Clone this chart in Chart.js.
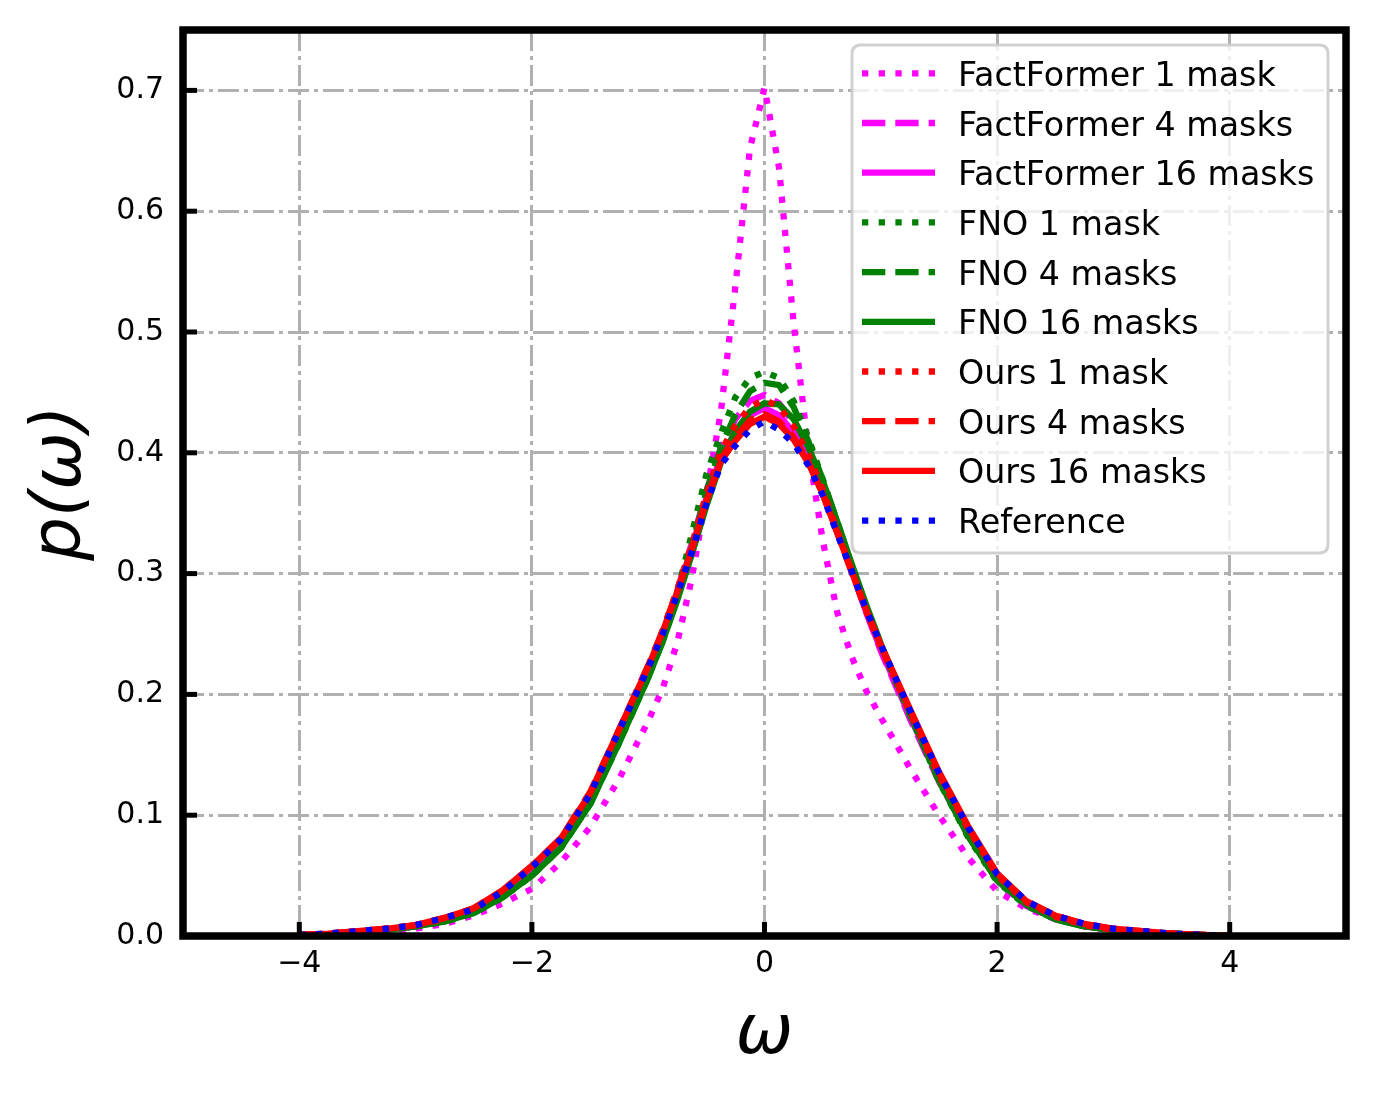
<!DOCTYPE html>
<html>
<head>
<meta charset="utf-8">
<script src="https://cdn.jsdelivr.net/npm/chart.js@4.4.1/dist/chart.umd.min.js"></script>
<style>
  html, body { margin: 0; padding: 0; background: #ffffff; }
  #wrap { width: 1374px; height: 1094px; }
</style>
</head>
<body>
<div id="wrap"><canvas id="c" width="1374" height="1094"></canvas></div>
<script>
// ---- data ----
const omega = [-4,-3.75,-3.5,-3.25,-3,-2.75,-2.5,-2.25,-2,-1.75,-1.5,-1.25,-1,-0.875,-0.75,-0.625,-0.5,-0.375,-0.25,-0.125,0,0.125,0.25,0.375,0.5,0.625,0.75,0.875,1,1.25,1.5,1.75,2,2.25,2.5,2.75,3,3.25,3.5,3.75,4];

const factFormer1 = [0.000,0.001,0.002,0.003,0.006,0.010,0.017,0.027,0.039,0.061,0.090,0.130,0.178,0.205,0.243,0.296,0.365,0.434,0.538,0.652,0.702,0.636,0.508,0.404,0.328,0.268,0.231,0.203,0.181,0.139,0.100,0.065,0.037,0.023,0.014,0.008,0.005,0.003,0.002,0.001,0.000];
const factFormer4 = [0.001,0.001,0.003,0.005,0.008,0.013,0.020,0.034,0.053,0.076,0.112,0.165,0.219,0.250,0.286,0.325,0.368,0.404,0.428,0.443,0.448,0.441,0.425,0.401,0.372,0.338,0.303,0.268,0.236,0.180,0.128,0.084,0.046,0.025,0.014,0.008,0.005,0.003,0.002,0.001,0.000];
const factFormer16 = [0.001,0.001,0.003,0.005,0.008,0.013,0.020,0.034,0.053,0.077,0.113,0.166,0.219,0.249,0.284,0.321,0.362,0.397,0.417,0.431,0.437,0.431,0.417,0.396,0.369,0.336,0.302,0.268,0.237,0.182,0.130,0.085,0.047,0.026,0.015,0.009,0.005,0.003,0.002,0.001,0.000];
const fno1 = [0.001,0.001,0.003,0.005,0.008,0.012,0.019,0.032,0.050,0.073,0.110,0.160,0.214,0.245,0.284,0.333,0.382,0.416,0.446,0.462,0.467,0.462,0.443,0.413,0.378,0.342,0.306,0.272,0.240,0.183,0.128,0.082,0.045,0.025,0.014,0.008,0.005,0.003,0.002,0.001,0.000];
const fno4 = [0.001,0.001,0.003,0.005,0.008,0.012,0.019,0.032,0.050,0.073,0.109,0.160,0.214,0.244,0.280,0.322,0.368,0.404,0.432,0.451,0.458,0.456,0.438,0.410,0.378,0.343,0.307,0.273,0.241,0.184,0.129,0.083,0.046,0.026,0.014,0.008,0.005,0.003,0.002,0.001,0.000];
const fno16 = [0.001,0.001,0.003,0.005,0.008,0.012,0.019,0.032,0.050,0.073,0.109,0.160,0.214,0.244,0.278,0.316,0.356,0.392,0.418,0.434,0.441,0.440,0.428,0.405,0.377,0.343,0.308,0.274,0.242,0.184,0.129,0.083,0.046,0.026,0.014,0.008,0.005,0.003,0.002,0.001,0.000];
const ours1 = [0.001,0.002,0.004,0.006,0.009,0.014,0.022,0.037,0.057,0.080,0.117,0.170,0.223,0.253,0.287,0.324,0.366,0.401,0.423,0.438,0.444,0.438,0.422,0.399,0.370,0.336,0.302,0.269,0.239,0.185,0.133,0.089,0.050,0.028,0.016,0.009,0.005,0.003,0.002,0.001,0.000];
const ours4 = [0.001,0.002,0.004,0.006,0.009,0.015,0.023,0.038,0.058,0.081,0.119,0.171,0.224,0.253,0.286,0.321,0.362,0.395,0.413,0.427,0.432,0.426,0.413,0.393,0.366,0.334,0.301,0.269,0.240,0.187,0.135,0.090,0.051,0.029,0.017,0.010,0.006,0.004,0.002,0.001,0.000];
const ours16 = [0.001,0.002,0.004,0.006,0.009,0.015,0.023,0.038,0.058,0.081,0.118,0.171,0.223,0.252,0.285,0.320,0.360,0.393,0.410,0.424,0.430,0.424,0.411,0.392,0.366,0.334,0.302,0.270,0.241,0.188,0.136,0.091,0.052,0.029,0.017,0.010,0.006,0.004,0.002,0.001,0.000];
const reference = [0.001,0.002,0.004,0.006,0.009,0.015,0.022,0.037,0.057,0.080,0.117,0.170,0.222,0.250,0.283,0.318,0.358,0.390,0.406,0.419,0.426,0.419,0.408,0.390,0.365,0.333,0.302,0.270,0.241,0.187,0.135,0.090,0.051,0.029,0.017,0.010,0.006,0.004,0.002,0.001,0.000];

const seriesLabels = ['FactFormer 1 mask','FactFormer 4 masks','FactFormer 16 masks','FNO 1 mask','FNO 4 masks','FNO 16 masks','Ours 1 mask','Ours 4 masks','Ours 16 masks','Reference'];
const seriesValues = [factFormer1, factFormer4, factFormer16, fno1, fno4, fno16, ours1, ours4, ours16, reference];
const seriesColors = ['#ff00ff','#ff00ff','#ff00ff','#008000','#008000','#008000','#ff0000','#ff0000','#ff0000','#0000ff'];
const seriesStyles = ['dotted','dashed','solid','dotted','dashed','solid','dotted','dashed','solid','dotted'];

const xTickValues = [-4, -2, 0, 2, 4];
const yTickValues = [0.0, 0.1, 0.2, 0.3, 0.4, 0.5, 0.6, 0.7];

// ---- styling ----
const LW = 6.3;
const dashFor = s => s === 'dotted' ? [LW, 10.4] : (s === 'dashed' ? [23.3, 10] : []);
const FONT = '"DejaVu Sans", "Liberation Sans", sans-serif';

const datasets = seriesLabels.map((lab, i) => ({
  label: lab,
  data: omega.map((x, k) => ({ x: x, y: seriesValues[i][k] })),
  borderColor: seriesColors[i],
  backgroundColor: seriesColors[i],
  borderWidth: LW,
  borderDash: dashFor(seriesStyles[i]),
  borderCapStyle: 'butt',
  borderJoinStyle: 'round',
  pointRadius: 0,
  tension: 0,
  fill: false,
  order: seriesLabels.length - i
}));

// custom in-axes legend (matplotlib style) + frame + inward ticks
const decorPlugin = {
  id: 'decor',
  afterDatasetsDraw(chart) {
    const ctx = chart.ctx;
    const bx = 852, by = 45, bw = 476, bh = 508, r = 9;
    ctx.save();
    ctx.beginPath();
    ctx.moveTo(bx + r, by);
    ctx.lineTo(bx + bw - r, by);
    ctx.quadraticCurveTo(bx + bw, by, bx + bw, by + r);
    ctx.lineTo(bx + bw, by + bh - r);
    ctx.quadraticCurveTo(bx + bw, by + bh, bx + bw - r, by + bh);
    ctx.lineTo(bx + r, by + bh);
    ctx.quadraticCurveTo(bx, by + bh, bx, by + bh - r);
    ctx.lineTo(bx, by + r);
    ctx.quadraticCurveTo(bx, by, bx + r, by);
    ctx.closePath();
    ctx.fillStyle = 'rgba(255,255,255,0.8)';
    ctx.fill();
    ctx.lineWidth = 3;
    ctx.strokeStyle = 'rgba(204,204,204,0.9)';
    ctx.stroke();
    chart.data.datasets.forEach((ds, i) => {
      const yRow = 73.3 + i * 49.7;
      ctx.beginPath();
      ctx.setLineDash(ds.borderDash || []);
      ctx.lineDashOffset = 0;
      ctx.lineCap = 'butt';
      ctx.lineWidth = LW;
      ctx.strokeStyle = ds.borderColor;
      ctx.moveTo(862, yRow);
      ctx.lineTo(935, yRow);
      ctx.stroke();
      ctx.setLineDash([]);
      ctx.fillStyle = '#000000';
      ctx.font = '33.3px ' + FONT;
      ctx.textAlign = 'left';
      ctx.textBaseline = 'alphabetic';
      ctx.fillText(ds.label, 958, yRow + 12.5);
    });
    ctx.restore();
  },
  afterDraw(chart) {
    const ctx = chart.ctx;
    const a = chart.chartArea;
    const xs = chart.scales.x, ys = chart.scales.y;
    ctx.save();
    ctx.setLineDash([]);
    ctx.strokeStyle = '#000000';
    ctx.lineWidth = 5;
    ctx.lineCap = 'butt';
    xTickValues.forEach(v => {
      const px = xs.getPixelForValue(v);
      ctx.beginPath();
      ctx.moveTo(px, a.bottom);
      ctx.lineTo(px, a.bottom - 14);
      ctx.stroke();
    });
    yTickValues.forEach(v => {
      const py = ys.getPixelForValue(v);
      ctx.beginPath();
      ctx.moveTo(a.left, py);
      ctx.lineTo(a.left + 14, py);
      ctx.stroke();
    });
    ctx.lineWidth = 7.5;
    ctx.lineJoin = 'miter';
    ctx.strokeRect(a.left, a.top, a.right - a.left, a.bottom - a.top);
    ctx.restore();
  }
};

const fmtMinus = v => {
  const s = String(v);
  return s.startsWith('-') ? '\u2212' + s.slice(1) : s;
};

const zeroPad = s => { s.paddingTop = 0; s.paddingBottom = 0; s.paddingLeft = 0; s.paddingRight = 0; };

new Chart(document.getElementById('c'), {
  type: 'line',
  data: { datasets: datasets },
  options: {
    responsive: false,
    animation: false,
    devicePixelRatio: 1,
    layout: { padding: { top: 30, right: 28, left: 0, bottom: 0 } },
    plugins: { legend: { display: false }, tooltip: { enabled: false } },
    scales: {
      x: {
        type: 'linear',
        min: -5, max: 5,
        afterBuildTicks: s => { s.ticks = xTickValues.map(v => ({ value: v })); },
        afterFit: s => { s.height = 158; zeroPad(s); },
        ticks: {
          color: '#000000',
          font: { family: FONT, size: 30 },
          padding: 10,
          maxRotation: 0,
          callback: v => fmtMinus(v)
        },
        grid: { color: '#b0b0b0', lineWidth: 3, drawTicks: false },
        border: { display: false, dash: [21, 5, 4, 5] },
        title: {
          display: true,
          text: 'ω',
          color: '#000000',
          font: { family: FONT, size: 69, style: 'italic' },
          padding: { top: 0, bottom: 18 }
        }
      },
      y: {
        type: 'linear',
        min: 0, max: 0.75,
        afterBuildTicks: s => { s.ticks = yTickValues.map(v => ({ value: v })); },
        afterFit: s => { s.width = 183; zeroPad(s); },
        ticks: {
          color: '#000000',
          font: { family: FONT, size: 30 },
          padding: 19,
          callback: v => Number(v).toFixed(1)
        },
        grid: { color: '#b0b0b0', lineWidth: 3, drawTicks: false },
        border: { display: false, dash: [21, 5, 4, 5] },
        title: {
          display: true,
          text: 'p(ω)',
          color: '#000000',
          font: { family: FONT, size: 69, style: 'italic' },
          padding: { top: 21, bottom: 0 }
        }
      }
    }
  },
  plugins: [decorPlugin]
});
</script>
</body>
</html>
